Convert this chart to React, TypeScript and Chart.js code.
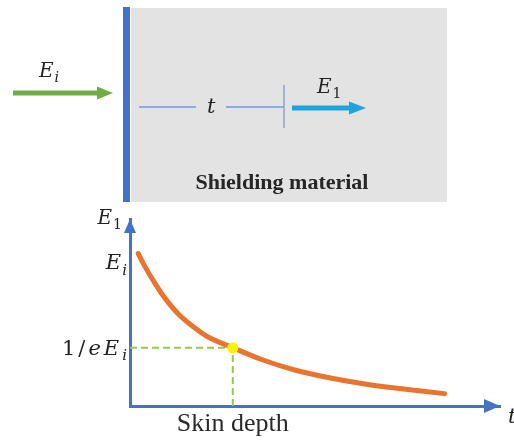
import React, { useEffect, useRef } from 'react';
import { Chart, registerables } from 'chart.js';

Chart.register(...registerables);

// ---- data ----
const curveT = [0.08, 0.146, 0.243, 0.34, 0.47, 0.6, 0.76, 1.0, 1.3, 1.62, 1.95, 2.27, 2.56, 3.06];
const curveE = [1.06, 0.969, 0.853, 0.75, 0.64, 0.56, 0.48, 0.405, 0.318, 0.247, 0.195, 0.155, 0.127, 0.086];
const skinDepthT = 1.0;
const skinDepthE = 0.405;
const xTickValues = [1.0];
const xTickLabels = ['Skin depth'];
const yTickValues = [1.0, 0.405];
const yTickLabels = ['E_i', '1/eE_i'];
const yAxisTitle = 'E_1';
const xAxisTitle = 't';
const xMax = 3.6;
const yMax = 1.3;

const MATH_FONT = '"DejaVu Serif", serif';
const TEXT_FONT = '"Liberation Serif", "Times New Roman", serif';

type Part = { t: string; italic: boolean; sub: boolean };
function parseMath(s: string): Part[] {
  const parts: Part[] = [];
  for (let i = 0; i < s.length; i++) {
    let sub = false;
    let c = s[i];
    if (c === '_' && i + 1 < s.length) {
      sub = true;
      i++;
      c = s[i];
    }
    parts.push({ t: c, italic: /[A-Za-z]/.test(c), sub });
  }
  return parts;
}

function drawMath(
  ctx: CanvasRenderingContext2D,
  s: string,
  x: number,
  baseline: number,
  size: number,
  align: 'left' | 'right',
  color: string,
  gap = 1
) {
  const parts = parseMath(s);
  const fontOf = (p: Part) =>
    `${p.italic ? 'italic ' : ''}${p.sub ? Math.round(size * 0.72) : size}px ${MATH_FONT}`;
  const widths = parts.map((p) => {
    ctx.font = fontOf(p);
    return ctx.measureText(p.t).width;
  });
  const total = widths.reduce((a, b) => a + b, 0) + gap * (parts.length - 1);
  let cx = align === 'right' ? x - total : x;
  ctx.save();
  ctx.fillStyle = color;
  ctx.textAlign = 'left';
  ctx.textBaseline = 'alphabetic';
  parts.forEach((p, i) => {
    ctx.font = fontOf(p);
    ctx.fillText(p.t, cx, baseline + (p.sub ? size * 0.26 : 0));
    cx += widths[i] + gap;
  });
  ctx.restore();
}

function arrow(
  ctx: CanvasRenderingContext2D,
  x1: number,
  y1: number,
  x2: number,
  y2: number,
  width: number,
  headLen: number,
  headHalf: number,
  color: string
) {
  const ang = Math.atan2(y2 - y1, x2 - x1);
  const bx = x2 - Math.cos(ang) * headLen;
  const by = y2 - Math.sin(ang) * headLen;
  ctx.save();
  ctx.strokeStyle = color;
  ctx.fillStyle = color;
  ctx.lineWidth = width;
  ctx.beginPath();
  ctx.moveTo(x1, y1);
  ctx.lineTo(bx + Math.cos(ang) * 2, by + Math.sin(ang) * 2);
  ctx.stroke();
  ctx.beginPath();
  ctx.moveTo(x2, y2);
  ctx.lineTo(bx - Math.sin(ang) * headHalf, by + Math.cos(ang) * headHalf);
  ctx.lineTo(bx + Math.sin(ang) * headHalf, by - Math.cos(ang) * headHalf);
  ctx.closePath();
  ctx.fill();
  ctx.restore();
}

const diagramPlugin = {
  id: 'diagram',
  beforeDraw(chart: any) {
    const ctx: CanvasRenderingContext2D = chart.ctx;
    ctx.save();
    ctx.fillStyle = '#ffffff';
    ctx.fillRect(0, 0, chart.width, chart.height);
    // shielding material block
    ctx.fillStyle = '#E3E3E3';
    ctx.fillRect(131, 8, 316, 194);
    ctx.fillStyle = '#4472C4';
    ctx.fillRect(123, 7, 7, 195);
    // incident wave
    arrow(ctx, 13, 93, 113, 93, 5, 16, 6.5, '#70AD47');
    drawMath(ctx, 'E_i', 39, 77, 20, 'left', '#222222');
    // thickness dimension
    ctx.strokeStyle = '#8FAADC';
    ctx.lineWidth = 2;
    ctx.beginPath();
    ctx.moveTo(139, 107);
    ctx.lineTo(196, 107);
    ctx.moveTo(226, 107);
    ctx.lineTo(284, 107);
    ctx.stroke();
    ctx.strokeStyle = '#8EA3C2';
    ctx.lineWidth = 1.5;
    ctx.beginPath();
    ctx.moveTo(284, 85);
    ctx.lineTo(284, 128);
    ctx.stroke();
    drawMath(ctx, 't', 207, 113, 21, 'left', '#222222');
    // transmitted wave
    arrow(ctx, 292, 108, 366, 108, 5, 17, 6.5, '#1FA3DC');
    drawMath(ctx, 'E_1', 317, 93, 20, 'left', '#222222');
    ctx.fillStyle = '#262626';
    ctx.font = `bold 22px ${TEXT_FONT}`;
    ctx.textAlign = 'center';
    ctx.textBaseline = 'alphabetic';
    ctx.fillText('Shielding material', 282, 189);
    ctx.restore();
  },
  afterDraw(chart: any) {
    const ctx: CanvasRenderingContext2D = chart.ctx;
    const { left, right, top, bottom } = chart.chartArea;
    const ys = chart.scales.y;
    // axis arrowheads
    ctx.save();
    ctx.fillStyle = '#4472C4';
    ctx.beginPath();
    ctx.moveTo(left, top);
    ctx.lineTo(left - 6, top + 14);
    ctx.lineTo(left + 6, top + 14);
    ctx.closePath();
    ctx.fill();
    ctx.beginPath();
    ctx.moveTo(right, bottom);
    ctx.lineTo(right - 16, bottom - 7);
    ctx.lineTo(right - 16, bottom + 7);
    ctx.closePath();
    ctx.fill();
    ctx.restore();
    // y tick labels
    yTickValues.forEach((v, i) => {
      const py = ys.getPixelForValue(v);
      drawMath(ctx, yTickLabels[i], left - 3, py + 7, 21, 'right', '#222222', i === 1 ? 3 : 1);
    });
    // axis titles
    drawMath(ctx, yAxisTitle, left - 8, top + 5, 20, 'right', '#222222');
    drawMath(ctx, xAxisTitle, right + 8, bottom + 17, 21, 'left', '#222222');
  },
};

export default function App() {
  const ref = useRef<HTMLCanvasElement>(null);
  useEffect(() => {
    if (!ref.current) return;
    const curve = curveT.map((t, i) => ({ x: t, y: curveE[i] }));
    const chart = new Chart(ref.current, {
      type: 'scatter',
      data: {
        datasets: [
          {
            data: [{ x: skinDepthT, y: skinDepthE }],
            pointRadius: 5.5,
            pointBackgroundColor: '#FFF200',
            pointBorderWidth: 0,
            showLine: false,
            order: 0,
          },
          {
            data: curve,
            showLine: true,
            borderColor: '#E8742F',
            borderWidth: 5,
            pointRadius: 0,
            tension: 0.35,
            borderCapStyle: 'round',
            order: 1,
          },
          {
            data: [
              { x: 0, y: skinDepthE },
              { x: skinDepthT, y: skinDepthE },
              { x: skinDepthT, y: 0 },
            ],
            showLine: true,
            borderColor: '#8FCB4F',
            borderWidth: 2,
            borderDash: [7, 4],
            pointRadius: 0,
            tension: 0,
            order: 2,
          },
        ],
      },
      options: {
        animation: false,
        responsive: false,
        events: [],
        layout: { padding: { top: 219, right: 14, left: 0, bottom: 0 } },
        plugins: { legend: { display: false }, tooltip: { enabled: false } },
        scales: {
          x: {
            type: 'linear',
            min: 0,
            max: xMax,
            grid: { display: false, drawTicks: false },
            border: { display: true, color: '#4472C4', width: 3 },
            afterFit: (s: any) => {
              s.height = 35;
            },
            afterBuildTicks: (s: any) => {
              s.ticks = xTickValues.map((v) => ({ value: v }));
            },
            ticks: {
              padding: 3,
              color: '#2a2a2a',
              font: { family: TEXT_FONT, size: 26 },
              maxRotation: 0,
              callback: (v: any) => {
                const i = xTickValues.indexOf(Number(v));
                return i >= 0 ? xTickLabels[i] : '';
              },
            },
          },
          y: {
            type: 'linear',
            min: 0,
            max: yMax,
            grid: { display: false, drawTicks: false },
            border: { display: true, color: '#4472C4', width: 3 },
            afterFit: (s: any) => {
              s.width = 130;
            },
            afterBuildTicks: (s: any) => {
              s.ticks = yTickValues.map((v) => ({ value: v }));
            },
            ticks: { display: false },
          },
        },
      },
      plugins: [diagramPlugin],
    } as any);
    return () => chart.destroy();
  }, []);
  return (
    <div style={{ position: 'absolute', left: 0, top: 0, width: 514, height: 441, background: '#fff' }}>
      <canvas ref={ref} width={514} height={441} style={{ display: 'block' }} />
    </div>
  );
}
